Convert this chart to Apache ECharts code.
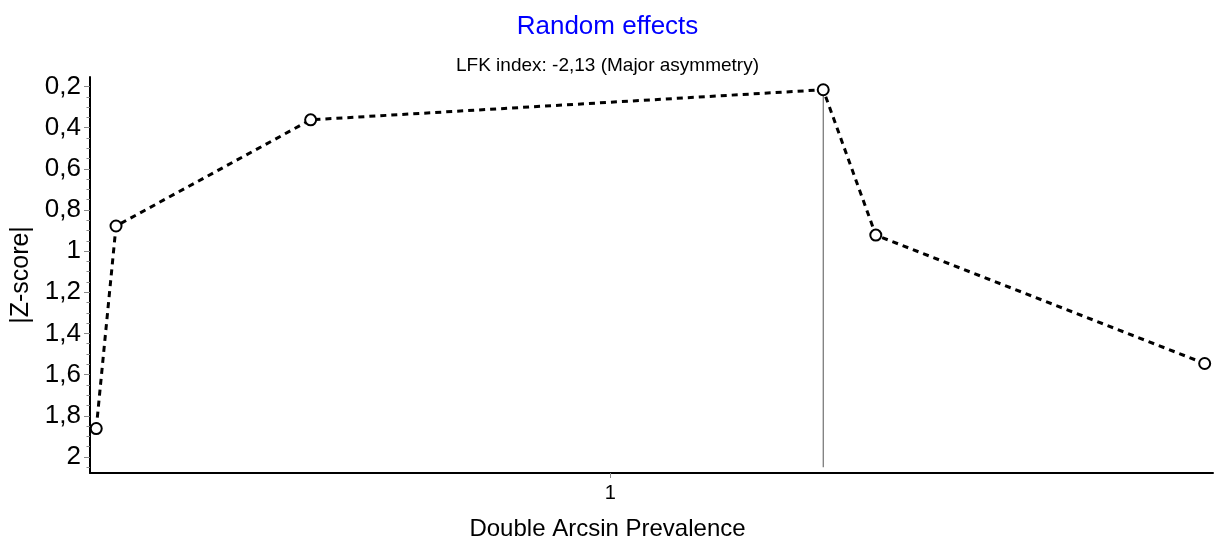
<!DOCTYPE html>
<html>
<head>
<meta charset="utf-8">
<script src="https://cdn.jsdelivr.net/npm/echarts@6/dist/echarts.min.js"></script>
<style>html,body{margin:0;padding:0;background:#fff}#c{width:1215px;height:546px}</style>
</head>
<body>
<div id="c"></div>
<script>
const titleText = 'Random effects';
const subtitleText = 'LFK index: -2,13 (Major asymmetry)';
const xName = 'Double Arcsin Prevalence';
const yName = '|Z-score|';
const xValues = [0.012, 0.050, 0.424, 1.409, 1.510, 2.142];
const zValues = [1.862, 0.878, 0.362, 0.216, 0.922, 1.546];
const xTicks = [1];
const yTicks = [0.2, 0.4, 0.6, 0.8, 1.0, 1.2, 1.4, 1.6, 1.8, 2.0];
const yMinorTicks = [0.15,0.25,0.3,0.35,0.45,0.5,0.55,0.65,0.7,0.75,0.85,0.9,0.95,1.05,1.1,1.15,1.25,1.3,1.35,1.45,1.5,1.55,1.65,1.7,1.75,1.85,1.9,1.95,2.05];
const refX = 1.409;
const refLine = [0.216, 2.05];
const xRange = [0, 2.158];
const yRange = [0.154, 2.078];

const FONT = "'Liberation Sans', Arial, sans-serif";
const fmt = v => String(Math.round(v * 10) / 10).replace('.', ',');

const chart = echarts.init(document.getElementById('c'), null, {renderer: 'canvas'});
chart.setOption({
  animation: false,
  backgroundColor: '#fff',
  title: [
    {text: titleText, left: 'center', top: 9, textStyle: {color: '#0000ff', fontSize: 26, fontWeight: 'normal', fontFamily: FONT}},
    {text: subtitleText, left: 'center', top: 51, textStyle: {color: '#000', fontSize: 19, fontWeight: 'normal', fontFamily: FONT}},
    {text: xName, left: 'center', top: 512, textStyle: {color: '#000', fontSize: 24, fontWeight: 'normal', fontFamily: FONT}}
  ],
  grid: {left: 90, right: 2, top: 77, bottom: 73, containLabel: false},
  xAxis: {
    type: 'value', min: xRange[0], max: xRange[1],
    axisLine: {show: true, onZero: false, lineStyle: {color: '#000', width: 2}},
    axisTick: {show: true, length: 5, customValues: xTicks, lineStyle: {color: '#888'}},
    axisLabel: {customValues: xTicks, formatter: fmt, fontSize: 20, color: '#000', fontFamily: FONT, margin: 10},
    splitLine: {show: false}
  },
  yAxis: [
    {
      type: 'value', inverse: true, min: yRange[0], max: yRange[1],
      name: yName, nameLocation: 'middle', nameGap: 53, nameRotate: 90,
      nameTextStyle: {fontSize: 25, color: '#000', fontFamily: FONT},
      axisLine: {show: true, onZero: false, lineStyle: {color: '#000', width: 2}},
      axisTick: {show: true, length: 6, customValues: yTicks, lineStyle: {color: '#888'}},
      axisLabel: {customValues: yTicks, formatter: fmt, fontSize: 26, color: '#000', fontFamily: FONT, margin: 9},
      splitLine: {show: false}
    },
    {
      type: 'value', inverse: true, min: yRange[0], max: yRange[1], position: 'left',
      axisLine: {show: false},
      axisTick: {show: true, length: 3.5, customValues: yMinorTicks, lineStyle: {color: '#888'}},
      axisLabel: {show: false},
      splitLine: {show: false}
    }
  ],
  series: [
    {
      type: 'line',
      data: refLine.map(z => [refX, z]),
      symbol: 'none',
      lineStyle: {color: '#555', width: 1},
      z: 1
    },
    {
      type: 'line',
      data: xValues.map((x, i) => [x, zValues[i]]),
      symbol: 'circle', symbolSize: 11,
      itemStyle: {color: '#fff', borderColor: '#000', borderWidth: 2},
      lineStyle: {color: '#000', width: 3, type: [6, 5]},
      z: 3
    }
  ]
});
</script>
</body>
</html>
